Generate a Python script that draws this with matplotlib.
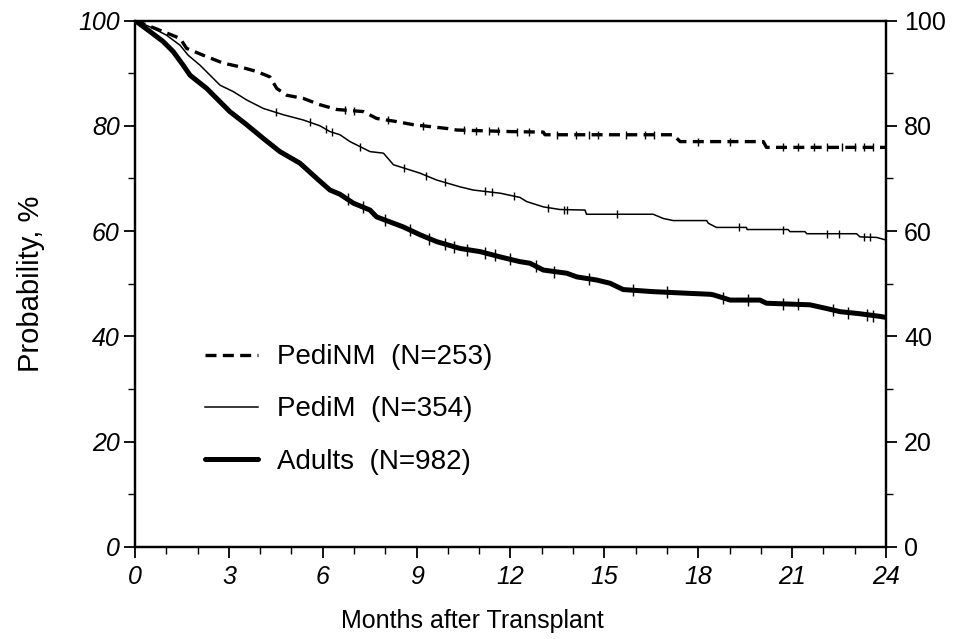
import numpy as np
import matplotlib
matplotlib.use("Agg")
import matplotlib.pyplot as plt
from matplotlib.ticker import MultipleLocator

# ---- data ----
adults_t = [0, 0.48, 0.9, 1.22, 1.54, 1.76, 2.29, 3.03, 3.57, 4.1, 4.63, 5.27, 5.81, 6.23, 6.55,
            6.98, 7.51, 7.72, 8.57, 9.11, 9.64, 10.39, 11.03, 11.67, 12.3, 12.62, 13.05, 13.8,
            14.12, 14.76, 15.18, 15.6, 16.56, 17.63, 18.38, 18.48, 19.02, 19.97, 20.18, 21.57,
            22.1, 22.53, 23.17, 23.81, 24]
adults_s = [100, 97.9, 96.0, 94.1, 91.5, 89.6, 87.1, 82.7, 80.2, 77.6, 75.1, 72.9, 70.0, 67.8, 67.0,
            65.3, 64.0, 62.7, 60.8, 59.3, 58.0, 56.7, 56.1, 55.1, 54.2, 53.9, 52.6, 52.0,
            51.3, 50.7, 50.1, 48.9, 48.5, 48.2, 48.0, 47.9, 46.9, 46.9, 46.3, 46.0,
            45.3, 44.7, 44.3, 43.8, 43.6]

pedim_t = [0, 0.59, 1.01, 1.44, 1.7, 2.08, 2.4, 2.72, 3.14, 3.57, 4.1, 4.74, 5.38, 5.91, 6.23,
           6.55, 6.87, 7.51, 7.94, 8.26, 9.11, 9.64, 10.39, 10.81, 11.67, 12.3, 12.52, 13.05,
           13.58, 14.38, 14.43, 16.56, 16.88, 17.2, 18.27, 18.32, 18.58, 19.54, 19.56, 20.87,
           20.93, 21.41, 21.47, 23.06, 23.17, 23.7, 24]
pedim_s = [100, 98.5, 97.2, 95.3, 93.4, 91.5, 89.6, 87.7, 86.5, 84.9, 83.3, 82.1, 81.1, 80.0, 78.9,
           78.3, 77.0, 75.1, 74.8, 72.6, 71.0, 69.7, 68.4, 67.8, 67.2, 66.4, 65.6, 64.6,
           64.1, 64.0, 63.2, 63.2, 62.4, 62.0, 62.0, 61.5, 60.7, 60.7, 60.3, 60.3,
           59.9, 59.9, 59.5, 59.5, 58.9, 58.8, 58.3]

pedinm_t = [0, 0.9, 1.44, 1.65, 2.18, 2.82, 3.36, 3.89, 4.31, 4.53, 4.85, 5.38, 5.91, 6.45, 7.3,
            7.72, 8.36, 8.9, 9.96, 10.28, 12.0, 13.05, 13.1, 17.2, 17.42, 20.08, 20.18, 24]
pedinm_s = [100, 97.9, 96.6, 94.7, 93.4, 91.9, 91.2, 90.3, 89.3, 87.1, 85.8, 85.2, 84.0, 83.1, 82.7,
            81.4, 80.8, 80.2, 79.5, 79.2, 78.9, 78.8, 78.3, 78.3, 77.0, 77.0, 75.9, 75.9]

# censoring times (tick marks on the curves)
adults_cens = [6.8, 7.3, 8.0, 8.8, 9.4, 9.9, 10.2, 10.6, 11.2, 11.5, 12.0, 12.8, 13.4, 14.5,
               15.9, 17.0, 18.8, 19.6, 20.7, 21.2, 22.3, 22.8, 23.4, 23.6]
pedim_cens = [4.5, 5.6, 6.1, 6.3, 7.2, 8.6, 9.3, 9.9, 11.2, 11.4, 12.1, 13.2, 13.7, 13.8,
              15.4, 19.3, 20.7, 22.1, 22.5, 23.3, 23.5]
pedinm_cens = [6.7, 7.0, 8.1, 9.2, 10.5, 10.9, 11.3, 11.6, 12.2, 12.6, 13.5, 14.1, 14.5, 14.8,
               15.7, 16.3, 16.6, 18.0, 19.0, 20.7, 21.2, 21.7, 22.1, 22.6, 23.0, 23.3, 23.6]

labels = ["PediNM  (N=253)", "PediM  (N=354)", "Adults  (N=982)"]
x_ticks = [0, 3, 6, 9, 12, 15, 18, 21, 24]
y_ticks = [0, 20, 40, 60, 80, 100]

FONT = "Liberation Sans"
plt.rcParams["font.family"] = [FONT, "DejaVu Sans"]

fig = plt.figure(figsize=(9.56, 6.39), dpi=100)
ax = fig.add_axes([135 / 956, 1 - 547 / 639, 751 / 956, 526.5 / 639])


def surv_at(ts, ss, c):
    return np.interp(c, np.asarray(ts), np.asarray(ss))


l1, = ax.plot(pedinm_t, pedinm_s, color="black", lw=2.4, ls=(0, (3.3, 1.9)),
              dash_capstyle="butt")
l2, = ax.plot(pedim_t, pedim_s, color="black", lw=1.1)
l3, = ax.plot(adults_t, adults_s, color="black", lw=3.6, solid_capstyle="round")

ax.plot(pedinm_cens, surv_at(pedinm_t, pedinm_s, pedinm_cens), ls="none", marker="|",
        ms=6, mew=1, color="black")
ax.plot(pedim_cens, surv_at(pedim_t, pedim_s, pedim_cens), ls="none", marker="|",
        ms=6, mew=1, color="black")
ax.plot(adults_cens, surv_at(adults_t, adults_s, adults_cens), ls="none", marker="|",
        ms=8, mew=1, color="black")

TICK_FS = 18
ax.set_xlim(0, 24)
ax.set_ylim(0, 100)
ax.set_xticks(x_ticks)
ax.set_yticks(y_ticks)
ax.xaxis.set_minor_locator(MultipleLocator(1))
ax.yaxis.set_minor_locator(MultipleLocator(10))
ax.tick_params(which="major", direction="out", length=8, width=1.3, labelsize=TICK_FS)
ax.tick_params(axis="y", which="major", pad=3)
ax.tick_params(axis="x", which="major", pad=5)
ax.tick_params(which="minor", direction="out", length=5, width=1.0)
for lab in ax.get_xticklabels() + ax.get_yticklabels():
    lab.set_fontstyle("italic")
for sp in ax.spines.values():
    sp.set_linewidth(1.6)

ax2 = ax.twinx()
ax2.set_ylim(0, 100)
ax2.set_yticks(y_ticks)
ax2.yaxis.set_minor_locator(MultipleLocator(10))
ax2.tick_params(which="major", direction="out", length=8, width=1.3, labelsize=TICK_FS, pad=5)
ax2.tick_params(which="minor", direction="out", length=5, width=1.0)
for sp in ax2.spines.values():
    sp.set_linewidth(1.6)

ax.set_xlabel("Months after Transplant", fontsize=18)
ax.xaxis.set_label_coords(0.449, -0.118)
ax.set_ylabel("Probability, %", fontsize=21)
ax.yaxis.set_label_coords(-0.12, 0.5)

leg = ax.legend([l1, l2, l3], labels, loc="upper left", bbox_to_anchor=(0.093, 0.385),
                frameon=False, fontsize=20, handlelength=1.9, handletextpad=0.68,
                labelspacing=0.94, borderpad=0, borderaxespad=0)

fig.savefig("out.png", dpi=100)
